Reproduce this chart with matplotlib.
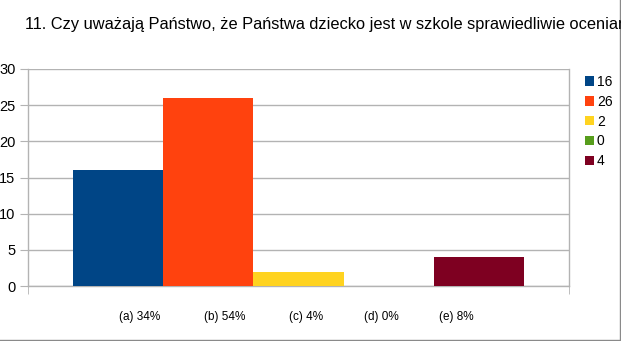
import matplotlib
matplotlib.use("Agg")
import matplotlib.pyplot as plt
import numpy as np

plt.rcParams['font.family'] = ['Liberation Sans', 'DejaVu Sans']

title = "11. Czy uważają Państwo, że Państwa dziecko jest w szkole sprawiedliwie oceniane?"
categories = ["(a) 34%", "(b) 54%", "(c) 4%", "(d) 0%", "(e) 8%"]
values = [16, 26, 2, 0, 4]
series_labels = ["16", "26", "2", "0", "4"]
colors = ["#004586", "#ff420e", "#ffd320", "#579d1c", "#7e0021"]

W, H = 621, 341
fig = plt.figure(figsize=(W / 100, H / 100), dpi=100)
ax = fig.add_axes([28 / W, (H - 286) / H, 541 / W, 217 / H])

n = len(values)
bw = 1.0 / n
handles = []
for i, (v, c, lab) in enumerate(zip(values, colors, series_labels)):
    x = -0.5 + bw * (i + 0.5)
    h = ax.bar(x, v, width=bw, color=c, label=lab, zorder=3, linewidth=0)
    handles.append(h)

ax.set_xlim(-0.6, 0.6)
ax.set_ylim(0, 30)
ax.set_yticks(np.arange(0, 31, 5))
ax.yaxis.grid(True, color="#b3b3b3", linewidth=1, zorder=0)
ax.tick_params(axis='y', length=6, color="#b3b3b3", labelsize=10.5, pad=3,
               labelcolor="#000000")

# category labels placed along the bottom
label_pos = [(p - 28) / 541 * 1.2 - 0.6 for p in [140, 225, 306, 381, 456]]
ax.set_xticks(label_pos)
ax.set_xticklabels(categories, fontsize=8.5)
ax.tick_params(axis='x', which='major', length=0, pad=18)
ax.set_xticks([-0.6, 0.6], minor=True)
ax.tick_params(axis='x', which='minor', length=6, color="#b3b3b3")

ax.spines['top'].set_visible(False)
for s in ['left', 'right', 'bottom']:
    ax.spines[s].set_color("#b3b3b3")
    ax.spines[s].set_linewidth(1)

fig.text(25 / W, 1 - 25 / H, title, fontsize=11.8, va='center', ha='left')

leg = fig.legend(handles=handles, labels=series_labels, loc='upper left',
                 bbox_to_anchor=(578 / W, 1 - 68 / H), frameon=False,
                 fontsize=10, handlelength=0.65, handleheight=0.65,
                 handletextpad=0.2, labelspacing=0.42, borderpad=0)

# outer border lines (right, bottom)
fig.add_artist(plt.Line2D([619.5 / W, 619.5 / W], [0, 1], transform=fig.transFigure,
                          color="#8a8a8a", linewidth=1))
fig.add_artist(plt.Line2D([0, 1], [1.5 / H, 1.5 / H], transform=fig.transFigure,
                          color="#8a8a8a", linewidth=1))

fig.savefig("out.png", dpi=100)
